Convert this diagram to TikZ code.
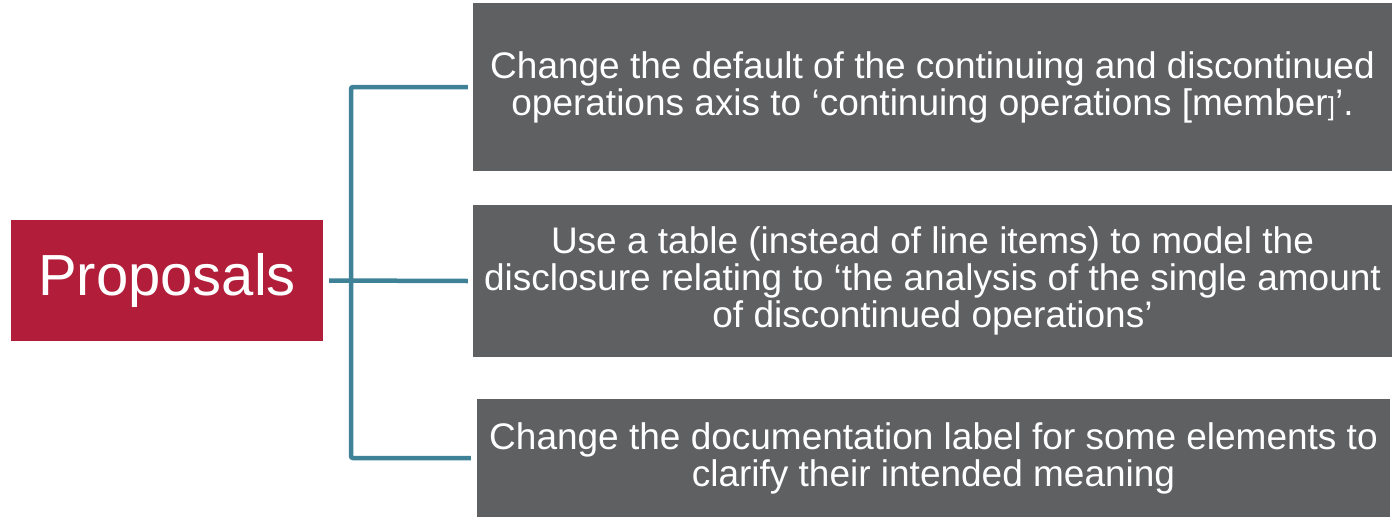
\documentclass[tikz,border=0pt]{standalone}
\usepackage{fontspec}
\setmainfont{Liberation Sans}
\definecolor{propred}{HTML}{B21E3A}
\definecolor{itemgray}{HTML}{5F6062}
\definecolor{linkteal}{HTML}{3F8196}
\begin{document}
\begin{tikzpicture}[x=1pt,y=-1pt,
  itembox/.style={fill=itemgray,draw=none,text=white,align=center,inner sep=0pt,
    font=\fontsize{37}{37}\selectfont},
  headbox/.style={fill=propred,draw=none,text=white,inner sep=0pt,
    font=\fontsize{58}{66}\selectfont},
  link/.style={draw=linkteal,line width=4.5pt,rounded corners=2pt}]
\useasboundingbox (0,0) rectangle (1392,517);

\node[headbox,minimum width=312pt,minimum height=121pt] (prop) at (167,280.5) {Proposals};

\node[itembox,minimum width=919pt,minimum height=168pt] (b1) at (932.5,87)
  {Change the default of the continuing and discontinued\\operations axis to ‘continuing operations [member{\fontsize{26}{26}\selectfont]}’.};
\node[itembox,minimum width=919pt,minimum height=152pt] (b2) at (932.5,281)
  {Use a table (instead of line items) to model the\\disclosure relating to ‘the analysis of the single amount\\of discontinued operations’};
\node[itembox,minimum width=913pt,minimum height=118pt] (b3) at (933.5,458)
  {Change the documentation label for some elements to\\clarify their intended meaning};

% bracket joining the three proposals
\coordinate (trunk) at (351,281);
\draw[link] ([xshift=6pt]prop.east) -- ([xshift=-5pt]b2.west);
\draw[link] ([xshift=-5pt]b1.west) -| (trunk) |- ([xshift=-6pt]b3.west);
\end{tikzpicture}
\end{document}
